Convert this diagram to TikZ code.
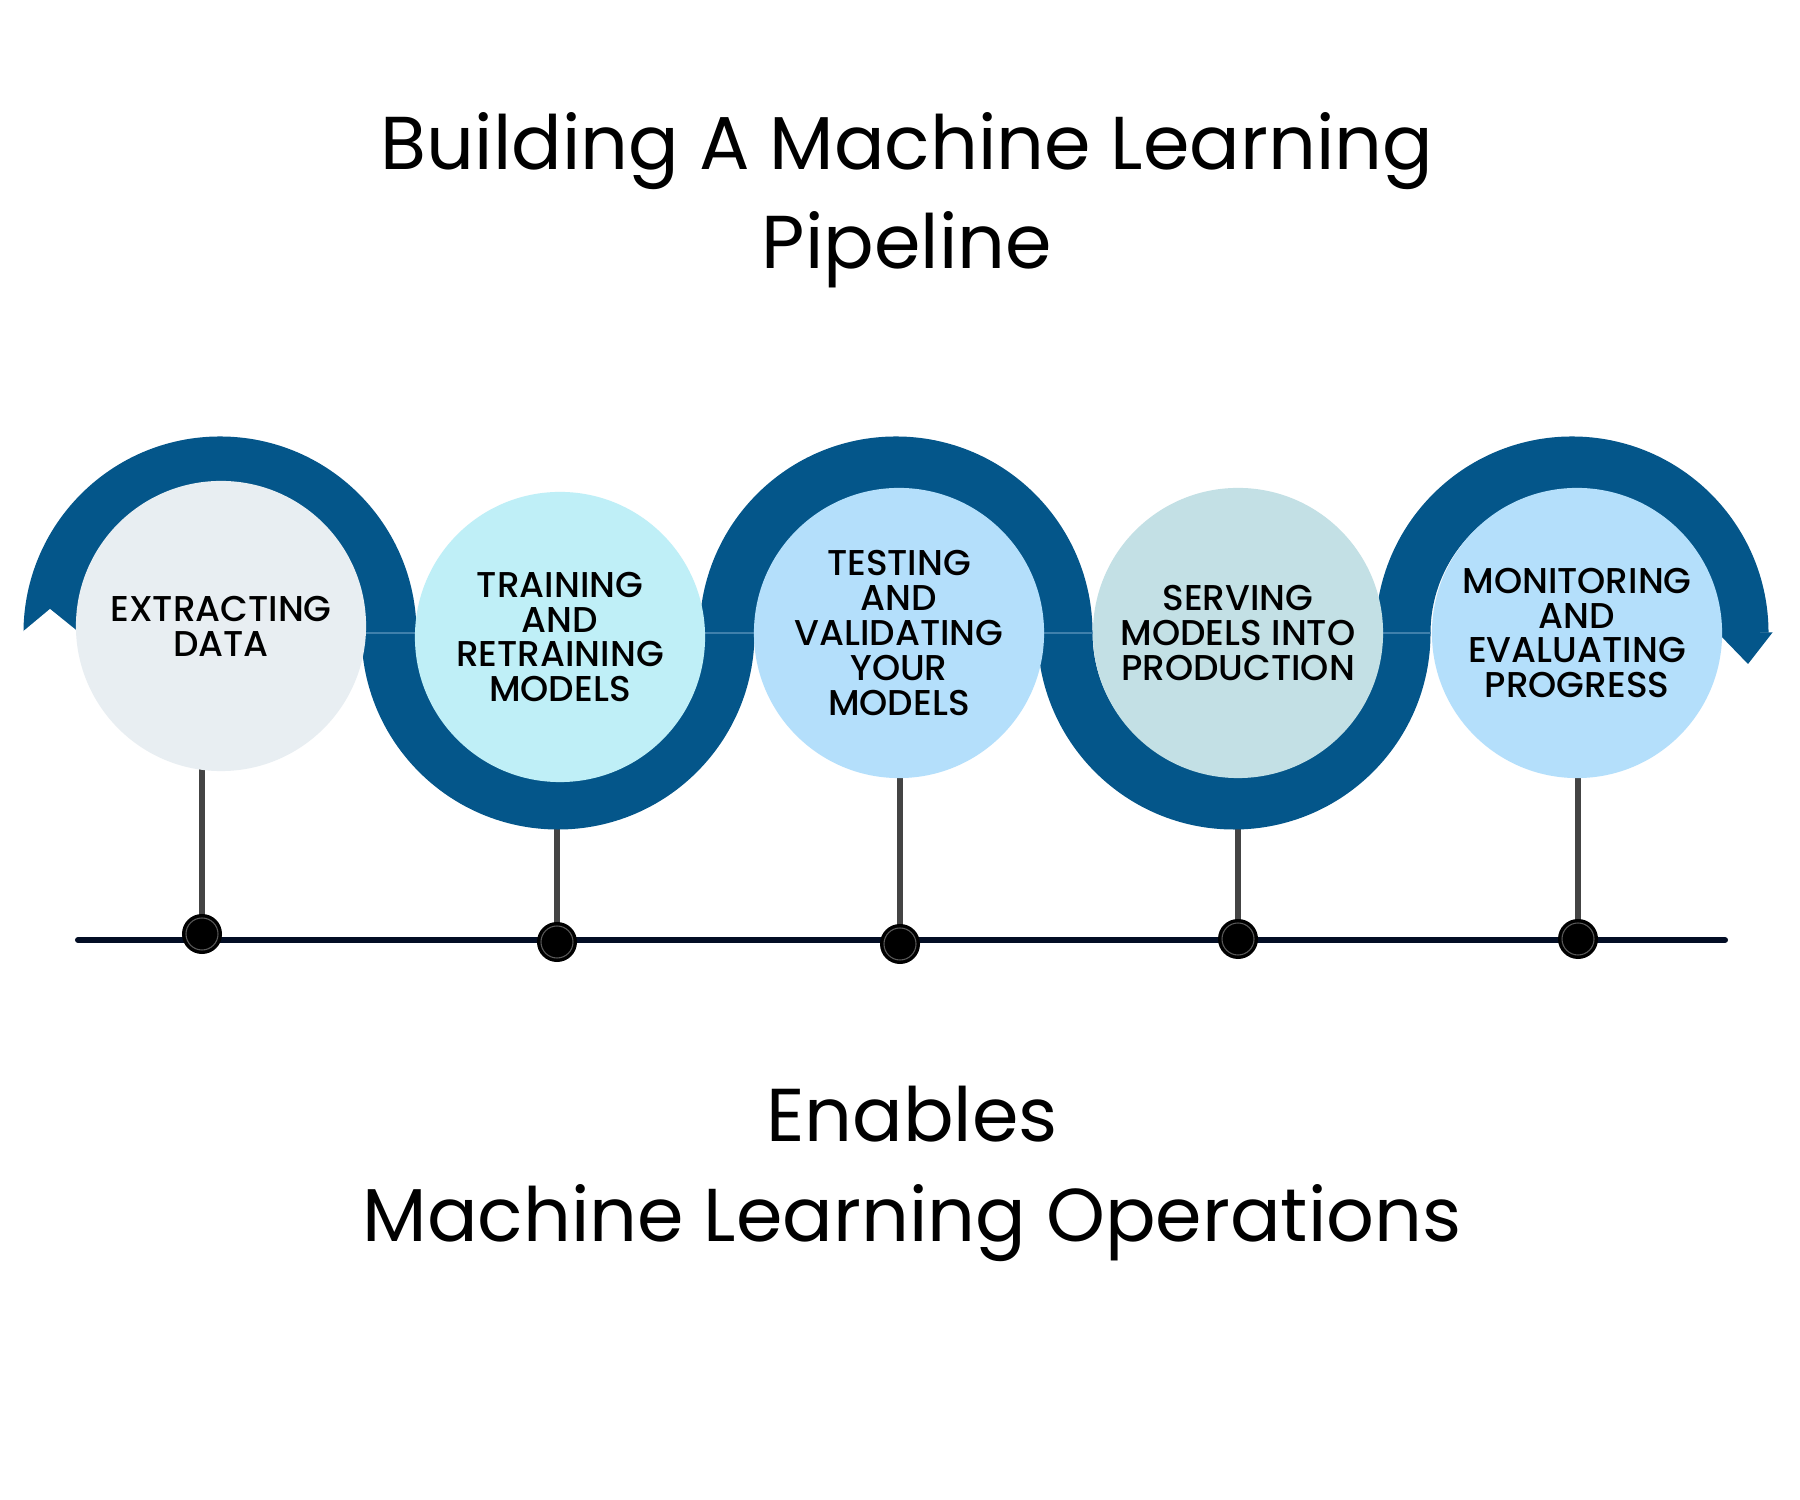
\documentclass[tikz,border=0pt]{standalone}
\usepackage{fontspec}
\setmainfont{Poppins}
\newfontfamily\stagefont{Poppins}[UprightFont=* Medium]

\definecolor{ribbonblue}{HTML}{04568A}
\definecolor{seamblue}{HTML}{3F80AC}
\definecolor{stageA}{HTML}{E8EEF2}
\definecolor{stageB}{HTML}{BFEFF7}
\definecolor{stageC}{HTML}{B4DFFB}
\definecolor{stageD}{HTML}{C3E0E5}
\definecolor{stemgray}{HTML}{444444}
\definecolor{axisnavy}{HTML}{020D24}

\begin{document}
\begin{tikzpicture}[x=0.01cm, y=0.01cm,
    ribbon/.style={draw=ribbonblue, line width=0.55cm},
    seam/.style={draw=seamblue, line width=0.4pt},
    stage/.style={circle, minimum size=2.9cm, inner sep=0pt, align=center,
                  font=\stagefont\fontsize{10.2}{9.9}\selectfont},
    stem/.style={draw=stemgray, line width=0.06cm},
    axis/.style={draw=axisnavy, line width=0.06cm, line cap=round},
    dot/.style={circle, fill=black, minimum size=0.4cm, inner sep=0pt,
                path picture={\draw[gray!70!black, line width=0.3pt]
                  (path picture bounding box.center) circle (0.16cm);}},
    heading/.style={anchor=base, font=\fontsize{21.3}{25}\selectfont}]

      \useasboundingbox (0,0) rectangle (1800,1500);
      \fill[white] (0,0) rectangle (1800,1500); % background

      % circle centres and points on the axis
      \coordinate (o1) at (221,874);
      \coordinate (o2) at (560,863);
      \coordinate (o3) at (899,867);
      \coordinate (o4) at (1238,867);
      \coordinate (o5) at (1577,867);
      \coordinate (p1) at (202,566);
      \coordinate (p2) at (557,558);
      \coordinate (p3) at (900,556);
      \coordinate (p4) at (1238,561);
      \coordinate (p5) at (1578,561);
      \coordinate (axisL) at (78,560);
      \coordinate (axisR) at (1725,560);

      % axis and stems
      \draw[axis] (axisL) -- (axisR);                          % time line
      \foreach \i in {1,...,5}
        \draw[stem] (o\i -| p\i) -- (p\i);                     % stem to axis

      % ribbon winding round the circles
      \draw[ribbon] (51,867) arc[start angle=180, end angle=0, radius=169]
                    arc[start angle=180, end angle=360, radius=169]
                    arc[start angle=180, end angle=0, radius=169]
                    arc[start angle=180, end angle=360, radius=169]
                    arc[start angle=180, end angle=0, radius=169];
      \fill[white] (20,866) -- (50,891) -- (81,866) -- cycle;  % notch at left end
      \fill[ribbonblue] (1717.5,867.5) -- (1772.5,867.5) -- (1748,836) -- cycle; % tip at right end
      \foreach \x in {389,727,1065,1403}
        \draw[seam] (\x-28,867) -- (\x+28,867);                % joints between arcs

      % stages
      \node[stage, fill=stageA] (extract) at (o1) {EXTRACTING\\DATA};
      \node[stage, fill=stageB] (train) at (o2) {TRAINING\\AND\\RETRAINING\\MODELS};
      \node[stage, fill=stageC] (test) at (o3) {TESTING\\AND\\VALIDATING\\YOUR\\MODELS};
      \node[stage, fill=stageD] (serve) at (o4) {SERVING\\MODELS INTO\\PRODUCTION};
      \node[stage, fill=stageC] (monitor) at (o5) {MONITORING\\AND\\EVALUATING\\PROGRESS};

      % dots on the axis
      \foreach \i in {1,...,5}
        \node[dot] (d\i) at (p\i) {};

      % texts
      \node[heading] (title) at (907,1330) {Building A Machine Learning};
      \node[heading] (subtitle) at (907,1231) {Pipeline};
      \node[heading] (enables) at (912,358) {Enables};
      \node[heading] (mlops) at (912,258) {Machine Learning Operations};

\end{tikzpicture}
\end{document}
